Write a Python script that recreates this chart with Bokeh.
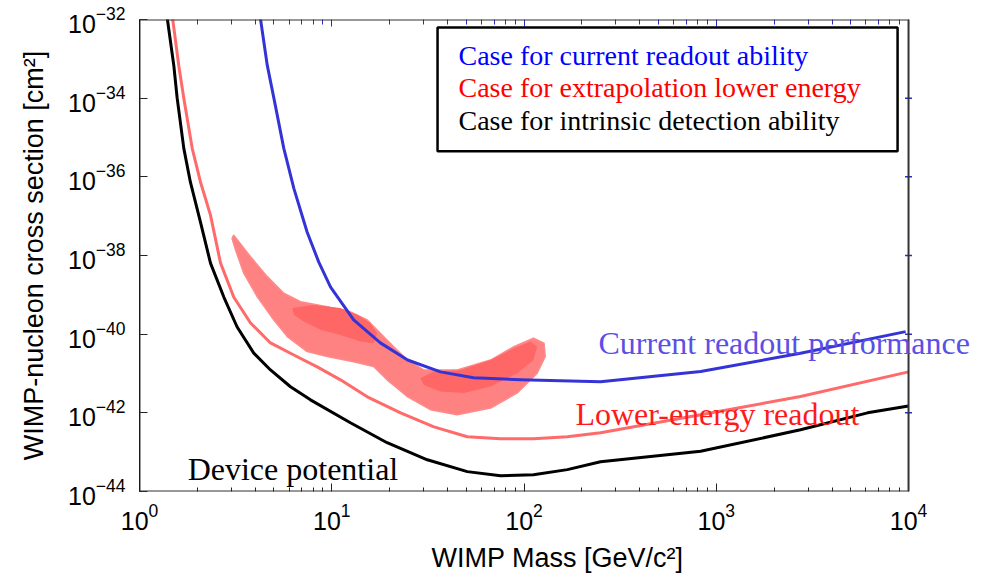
from bokeh.plotting import figure
from bokeh.models import LogAxis, FixedTicker, Label, BoxAnnotation
from bokeh.embed import file_html
from bokeh.resources import INLINE

# ---------------- data ----------------
# Device potential (intrinsic detection ability)
black_mass = [1.39, 1.508, 1.57, 1.70, 1.84, 2.077, 2.34, 2.745, 3.22, 3.93, 4.80,
              6.10, 7.75, 12.5, 19.4, 31.4, 50.7, 75.5, 112, 168, 250, 829, 2742,
              6120, 10000]
black_sigma = [1.2e-32, 6.8e-34, 1.0e-34, 5.3e-36, 7.3e-37, 7.0e-38, 6.4e-39,
               8.8e-40, 1.52e-40, 3.3e-41, 1.23e-41, 4.6e-42, 2.14e-42, 5.6e-43,
               1.74e-43, 6.4e-44, 3.2e-44, 2.5e-44, 2.67e-44, 3.6e-44, 5.7e-44,
               1.05e-43, 3.7e-43, 1.0e-42, 1.5e-42]
# Lower-energy readout (extrapolation lower energy)
red_mass = [1.48, 1.60, 1.70, 1.88, 2.077, 2.34, 2.64, 3.09, 3.78, 4.80, 6.35, 8.40,
            11.1, 15.3, 22.8, 34.0, 50.7, 75.5, 112, 168, 250, 829, 2742, 10000]
red_sigma = [1.26e-32, 6.8e-34, 1.0e-34, 5.3e-36, 7.3e-37, 1.06e-37, 6.4e-39,
             8.8e-40, 1.92e-40, 5.98e-41, 2.96e-41, 1.47e-41, 6.9e-42, 2.55e-42,
             1.0e-42, 4.4e-43, 2.46e-43, 2.19e-43, 2.19e-43, 2.46e-43, 3.1e-43,
             8.9e-43, 2.6e-42, 1.1e-41]
# Current readout performance
blue_mass = [4.24, 4.62, 5.00, 5.63, 6.35, 7.45, 8.56, 9.86, 13.0, 17.9, 24.8, 36.8,
             54.6, 95.9, 250, 829, 2742, 9660]
blue_sigma = [1.2e-32, 6.8e-34, 1.0e-34, 5.3e-36, 5.1e-37, 3.9e-38, 6.8e-39,
              1.58e-39, 2.3e-40, 6.0e-41, 2.2e-41, 1.1e-41, 7.8e-42, 6.9e-42,
              6.2e-42, 1.12e-41, 3.27e-41, 1.16e-40]
# Allowed region (outer contour)
region_mass = [3.09, 3.78, 4.62, 5.63, 6.88, 9.47, 12.5, 15.3, 17.9, 21.0, 24.7,
               30.1, 44.9, 67, 88.5, 112, 127, 129, 117, 92.2, 67, 44.9, 32.6,
               24.7, 19.4, 16.5, 13.0, 9.47, 7.45, 5.87, 5.00, 4.10, 3.49, 3.16, 3.03]
region_sigma = [3.3e-38, 9.3e-39, 2.9e-39, 1.1e-39, 6.7e-40, 5.0e-40, 3.7e-40,
                2.3e-40, 1.05e-40, 4.8e-41, 2.2e-41, 1.23e-41, 1.23e-41, 2.2e-41,
                4.8e-41, 7.9e-41, 5.9e-41, 2.7e-41, 1.02e-41, 3.2e-42, 1.32e-42,
                8.9e-43, 1.2e-42, 2.6e-42, 6.9e-42, 1.5e-41, 2.0e-41, 2.7e-41,
                3.6e-41, 8.7e-41, 2.3e-40, 8.9e-40, 3.5e-39, 1.38e-38, 2.7e-38]
# Inner contours
core1_mass = [6.23, 8.07, 11.1, 13.6, 15.9, 17.2, 16.5, 14.1, 11.1, 8.74, 7.15, 6.35]
core1_sigma = [4.6e-40, 5.5e-40, 4.6e-40, 3.1e-40, 1.9e-40, 1.05e-40, 5.9e-41,
               6.5e-41, 9.5e-41, 1.29e-40, 2.1e-40, 3.1e-40]
core2_mass = [28.9, 34.0, 46.7, 67, 88.5, 108, 117, 112, 92.2, 67, 48.6, 36.8, 30.1]
core2_sigma = [7.6e-42, 1.12e-41, 1.23e-41, 2.2e-41, 4.4e-41, 6.5e-41, 4.8e-41,
               2.2e-41, 1.02e-41, 4.7e-42, 3.2e-42, 3.5e-42, 5.1e-42]

x_min, x_max = 1, 1e4
y_min, y_max = 1e-44, 1e-32
x_ticks = [1, 10, 100, 1000, 10000]
x_minor = [k * 10 ** e for e in range(4) for k in range(2, 10)]
y_ticks = [1e-44, 1e-42, 1e-40, 1e-38, 1e-36, 1e-34, 1e-32]

legend_texts = ["Case for current readout ability",
                "Case for extrapolation lower energy",
                "Case for intrinsic detection ability"]

# ---------------- figure ----------------
# the frame is widened past 1e4 (white margin) so the curve label may overflow
p = figure(width=981, height=576, x_axis_type="log", y_axis_type="log",
           x_range=(x_min, 22300), y_range=(y_min, y_max),
           output_backend="svg", toolbar_location=None,
           min_border_left=139, min_border_right=6, min_border_top=19,
           min_border_bottom=85, background_fill_color="white",
           border_fill_color="white")
p.outline_line_color = None
p.grid.visible = False

AX_FONT = "Liberation Sans"
SERIF = "Liberation Serif"

xa = p.xaxis[0]
xa.ticker = FixedTicker(ticks=x_ticks, minor_ticks=x_minor)
xa.axis_label = "WIMP Mass [GeV/c²]"
ya = p.yaxis[0]
ya.ticker = FixedTicker(ticks=y_ticks, minor_ticks=[])
ya.axis_label = "WIMP-nucleon cross section [cm²]"
for ax in (xa, ya):
    ax.axis_label_text_font = AX_FONT
    ax.axis_label_text_font_style = "normal"
    ax.axis_label_text_font_size = "27px"
    ax.axis_label_text_color = "black"
    ax.major_label_text_font = AX_FONT
    ax.major_label_text_font_size = "25px"
    ax.major_label_text_color = "black"
    ax.major_tick_in = 8
    ax.major_tick_out = 0
    ax.minor_tick_in = 4
    ax.minor_tick_out = 0
    ax.major_tick_line_color = "#222222"
    ax.minor_tick_line_color = "#222222"
xa.axis_line_color = None
ya.axis_line_color = "black"
xa.major_label_standoff = 11
xa.axis_label_standoff = 10
ya.major_label_standoff = 14
ya.axis_label_standoff = 16

# top axis with blue ticks (no labels)
top = LogAxis(ticker=FixedTicker(ticks=x_ticks, minor_ticks=x_minor))
top.major_label_text_font_size = "1px"
top.major_label_text_alpha = 0
top.major_label_standoff = 0
top.major_tick_in = 7
top.major_tick_out = 0
top.minor_tick_in = 5
top.minor_tick_out = 0
top.major_tick_line_color = "#2a2ad0"
top.minor_tick_line_color = "#2a2ad0"
top.axis_line_color = None
p.add_layout(top, "above")

# allowed regions
p.patch(region_mass, region_sigma, fill_color="#ff8282", line_color="#ff8a8a",
        line_width=1.5)
p.patch(core1_mass, core1_sigma, fill_color="#ff6666", line_color=None)
p.patch(core2_mass, core2_sigma, fill_color="#ff6666", line_color=None)

# limit curves
p.line(black_mass, black_sigma, line_color="black", line_width=3,
       line_join="round")
p.line(red_mass, red_sigma, line_color="#ff6a6a", line_width=3, line_join="round")
p.line(blue_mass, blue_sigma, line_color="#3434d6", line_width=3,
       line_join="round")

# plot frame ending at 1e4
frame = BoxAnnotation(left=x_min, right=x_max, bottom=y_min, top=y_max,
                      fill_color=None, fill_alpha=0, line_color="#333333",
                      line_alpha=1.0, line_width=2, level="annotation")
p.add_layout(frame)
# blue ticks on the right frame edge
p.scatter([x_max] * (len(y_ticks) - 2), y_ticks[1:-1], marker="dash", size=7,
          line_color="#2a2ad0", line_width=1.5)

# legend box
box = BoxAnnotation(left=35.5, right=8770, top=6.3e-33, bottom=4.5e-36,
                    fill_color="white", fill_alpha=1.0, line_color="black",
                    line_alpha=1.0, line_width=2.5, level="annotation")
p.add_layout(box)
legend_colors = ["#0000ff", "#ff0000", "black"]
legend_y = [1.19e-33, 1.88e-34, 2.65e-35]
for t, c, yv in zip(legend_texts, legend_colors, legend_y):
    p.add_layout(Label(x=45.6, y=yv, text=t, text_color=c, text_font=SERIF,
                       text_font_size="28px", text_baseline="middle"))

# curve labels
p.add_layout(Label(x=244, y=5.98e-41, text="Current readout performance",
                   text_color="#5a4fe6", text_font=SERIF, text_font_size="32px",
                   text_baseline="middle"))
p.add_layout(Label(x=185, y=9.4e-43, text="Lower-energy readout",
                   text_color="#ff1a1a", text_font=SERIF, text_font_size="32px",
                   text_baseline="middle"))
p.add_layout(Label(x=1.78, y=3.8e-44, text="Device potential",
                   text_color="black", text_font=SERIF, text_font_size="32px",
                   text_baseline="middle"))

open("out.html", "w").write(file_html(p, INLINE))
